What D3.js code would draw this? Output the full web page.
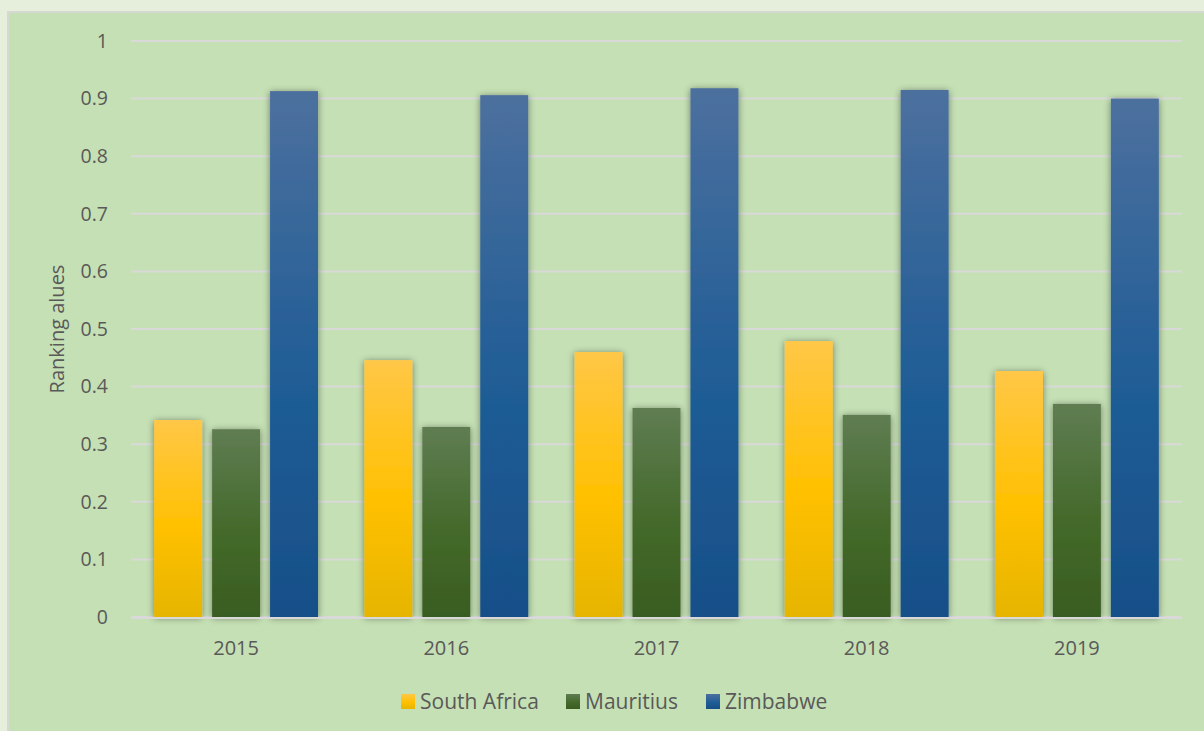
<!DOCTYPE html>
<html>
<head>
<meta charset="utf-8">
<script src="https://cdn.jsdelivr.net/npm/d3@7"></script>
<style>
  html, body { margin: 0; padding: 0; background: #e5efdb; }
  svg { display: block; }
  text { font-family: "Open Sans", "Liberation Sans", sans-serif; fill: #595959; }
</style>
</head>
<body>
<div id="chart"></div>
<script>
(function () {
    'use strict';

    var years = ['2015', '2016', '2017', '2018', '2019'];
    var seriesNames = ['South Africa', 'Mauritius', 'Zimbabwe'];
    var southAfrica = [0.342, 0.446, 0.460, 0.479, 0.427];
    var mauritius = [0.326, 0.330, 0.363, 0.351, 0.370];
    var zimbabwe = [0.913, 0.906, 0.918, 0.915, 0.900];
    var yTicks = [0, 0.1, 0.2, 0.3, 0.4, 0.5, 0.6, 0.7, 0.8, 0.9, 1];

    var series = [southAfrica, mauritius, zimbabwe];
    var gradients = [
        ['#ffc747', '#ffc000', '#e6b500'],
        ['#5f7d52', '#44692a', '#395d21'],
        ['#4c709e', '#205d96', '#174f88']
    ];

    var width = 1204, height = 731;
    var margin = { left: 131, right: 22, top: 41, bottom: 114 };

    var svg = d3.select('#chart').append('svg')
        .attr('width', width)
        .attr('height', height);

    var defs = svg.append('defs');
    gradients.forEach(function (g, i) {
        var lg = defs.append('linearGradient')
            .attr('id', 'grad' + i)
            .attr('x1', 0).attr('y1', 0).attr('x2', 0).attr('y2', 1);
        lg.append('stop').attr('offset', '0%').attr('stop-color', g[0]);
        lg.append('stop').attr('offset', '55%').attr('stop-color', g[1]);
        lg.append('stop').attr('offset', '100%').attr('stop-color', g[2]);
    });
    var shadow = defs.append('filter').attr('id', 'shadow')
        .attr('x', '-30%').attr('y', '-10%').attr('width', '160%').attr('height', '120%');
    shadow.append('feDropShadow')
        .attr('dx', 0).attr('dy', 1).attr('stdDeviation', 3.5)
        .attr('flood-color', '#000').attr('flood-opacity', 0.45);

    // panel
    svg.append('rect')
        .attr('x', 8).attr('y', 12)
        .attr('width', width).attr('height', height)
        .attr('fill', '#c5e0b4')
        .attr('stroke', '#d6d9d1')
        .attr('stroke-width', 2);

    var x0 = d3.scaleBand()
        .domain(years)
        .range([margin.left, width - margin.right])
        .paddingInner(0)
        .paddingOuter(0);

    var x1 = d3.scaleBand()
        .domain(d3.range(seriesNames.length))
        .range([0, x0.bandwidth()])
        .paddingInner(10 / 58)
        .paddingOuter(0.4);

    var y = d3.scaleLinear()
        .domain([0, 1])
        .range([height - margin.bottom, margin.top]);

    // gridlines
    svg.append('g').selectAll('line')
        .data(yTicks)
        .enter().append('line')
        .attr('x1', margin.left)
        .attr('x2', width - margin.right)
        .attr('y1', function (d) { return y(d); })
        .attr('y2', function (d) { return y(d); })
        .attr('stroke', '#d9d9d9')
        .attr('stroke-width', 2);

    // tick labels
    svg.append('g').selectAll('text')
        .data(yTicks)
        .enter().append('text')
        .attr('x', 108)
        .attr('y', function (d) { return y(d); })
        .attr('dy', '0.35em')
        .attr('text-anchor', 'end')
        .attr('font-size', 19.5)
        .text(function (d) { return d3.format('')(d); });

    // bars
    var groups = svg.append('g').selectAll('g')
        .data(years)
        .enter().append('g')
        .attr('transform', function (d) { return 'translate(' + x0(d) + ',0)'; });

    groups.selectAll('rect')
        .data(function (d, i) {
            return series.map(function (s, k) { return { k: k, value: s[i] }; });
        })
        .enter().append('rect')
        .attr('x', function (d) { return x1(d.k); })
        .attr('width', x1.bandwidth())
        .attr('y', function (d) { return y(d.value); })
        .attr('height', function (d) { return y(0) - y(d.value); })
        .attr('fill', function (d) { return 'url(#grad' + d.k + ')'; })
        .attr('filter', 'url(#shadow)');

    // baseline redrawn over bar bottoms
    svg.append('line')
        .attr('x1', margin.left).attr('x2', width - margin.right)
        .attr('y1', y(0) + 1).attr('y2', y(0) + 1)
        .attr('stroke', '#d9d9d9').attr('stroke-width', 2);

    // year labels
    svg.append('g').selectAll('text')
        .data(years)
        .enter().append('text')
        .attr('x', function (d) { return x0(d) + x0.bandwidth() / 2; })
        .attr('y', 648)
        .attr('dy', '0.35em')
        .attr('text-anchor', 'middle')
        .attr('font-size', 20)
        .text(function (d) { return d; });

    // axis title
    svg.append('text')
        .attr('transform', 'translate(64,' + 329 + ') rotate(-90)')
        .attr('text-anchor', 'middle')
        .attr('font-size', 20)
        .text('Ranking alues');

    // legend
    var legendX = [401, 566, 706];
    var legend = svg.append('g').selectAll('g')
        .data(seriesNames)
        .enter().append('g')
        .attr('transform', function (d, i) { return 'translate(' + legendX[i] + ',694)'; });
    legend.append('rect')
        .attr('width', 14).attr('height', 15)
        .attr('fill', function (d, i) { return 'url(#grad' + i + ')'; });
    legend.append('text')
        .attr('x', 19)
        .attr('y', 7.5)
        .attr('dy', '0.35em')
        .attr('font-size', 21)
        .text(function (d) { return d; });
})();
</script>
</body>
</html>
